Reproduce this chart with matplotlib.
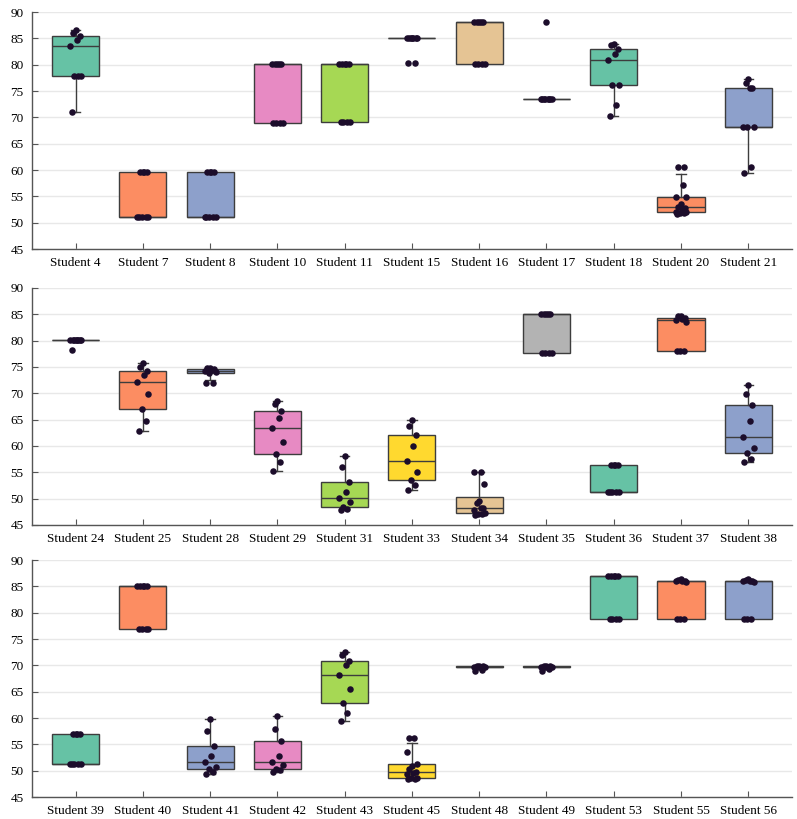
import matplotlib.pyplot as plt
import numpy as np

plt.rcParams['font.family'] = ['Liberation Serif', 'DejaVu Serif']

# Scores per student (three rows of eleven students)
students_1 = ['Student 4', 'Student 7', 'Student 8', 'Student 10', 'Student 11', 'Student 15',
              'Student 16', 'Student 17', 'Student 18', 'Student 20', 'Student 21']
scores_1 = [
    [71.0, 77.8, 77.8, 77.8, 83.6, 84.7, 85.4, 86.0, 86.5],
    [51.0, 51.0, 51.0, 51.0, 51.0, 59.6, 59.6, 59.6, 59.6],
    [51.0, 51.0, 51.0, 51.0, 51.0, 59.6, 59.6, 59.6, 59.6],
    [68.9, 68.9, 68.9, 68.9, 80.1, 80.1, 80.1, 80.1, 80.1],
    [69.2, 69.2, 69.2, 69.2, 80.1, 80.1, 80.1, 80.1, 80.1],
    [80.3, 80.3, 85.1, 85.1, 85.1, 85.1, 85.1, 85.1, 85.1],
    [80.1, 80.1, 80.1, 80.1, 88.2, 88.2, 88.2, 88.2, 88.2],
    [73.4, 73.4, 73.4, 73.4, 73.4, 73.4, 73.4, 73.4, 88.2],
    [70.2, 72.3, 76.2, 76.2, 80.8, 82.0, 82.9, 83.8, 84.0],
    [51.7, 51.8, 51.8, 52.0, 52.1, 52.6, 52.8, 53.0, 53.6, 54.9, 54.9, 57.2, 60.6, 60.6],
    [59.5, 60.6, 68.2, 68.2, 68.2, 75.5, 75.5, 76.6, 77.2],
]

students_2 = ['Student 24', 'Student 25', 'Student 28', 'Student 29', 'Student 31', 'Student 33',
              'Student 34', 'Student 35', 'Student 36', 'Student 37', 'Student 38']
scores_2 = [
    [78.2, 80.1, 80.1, 80.1, 80.1, 80.1, 80.1, 80.1, 80.1],
    [62.9, 64.8, 67.1, 69.9, 72.1, 73.4, 74.3, 75.0, 75.8],
    [71.9, 71.9, 73.8, 74.0, 74.3, 74.5, 74.6, 74.8, 74.8],
    [55.3, 56.9, 58.4, 60.7, 63.5, 65.3, 66.7, 68.0, 68.6],
    [47.8, 48.0, 48.4, 49.3, 50.1, 51.2, 53.2, 56.0, 58.1],
    [51.7, 52.6, 53.6, 55.0, 57.2, 59.9, 62.0, 63.8, 65.0],
    [46.9, 47.0, 47.1, 47.3, 47.9, 48.2, 48.3, 49.1, 49.6, 52.7, 55.0, 55.0],
    [77.6, 77.6, 77.6, 77.6, 85.1, 85.1, 85.1, 85.1, 85.1],
    [51.2, 51.2, 51.2, 51.2, 51.2, 56.3, 56.3, 56.3, 56.3],
    [78.0, 78.0, 78.0, 83.5, 84.0, 84.1, 84.3, 84.6, 84.6],
    [56.9, 57.6, 58.6, 59.6, 61.7, 64.8, 67.8, 69.8, 71.5],
]

students_3 = ['Student 39', 'Student 40', 'Student 41', 'Student 42', 'Student 43', 'Student 45',
              'Student 48', 'Student 49', 'Student 53', 'Student 55', 'Student 56']
scores_3 = [
    [51.2, 51.2, 51.2, 51.2, 51.2, 56.9, 56.9, 56.9, 56.9],
    [76.9, 76.9, 76.9, 76.9, 85.1, 85.1, 85.1, 85.1, 85.1],
    [49.4, 49.8, 50.4, 50.7, 51.6, 52.8, 54.7, 57.5, 59.8],
    [49.7, 50.1, 50.4, 51.0, 51.6, 52.8, 55.7, 57.9, 60.3],
    [59.4, 61.0, 62.9, 65.6, 68.1, 70.0, 70.9, 71.9, 72.6],
    [48.4, 48.5, 48.6, 48.7, 49.3, 49.6, 49.8, 50.4, 50.9, 51.3, 53.6, 56.3, 56.3],
    [68.9, 69.2, 69.6, 69.7, 69.7, 69.7, 69.8, 69.8, 69.8],
    [68.9, 69.3, 69.6, 69.7, 69.7, 69.7, 69.8, 69.8, 69.8],
    [78.8, 78.8, 78.8, 78.8, 87.0, 87.0, 87.0, 87.0, 87.0],
    [78.8, 78.8, 78.8, 85.8, 86.0, 86.0, 86.1, 86.3, 86.4],
    [78.8, 78.8, 78.8, 85.9, 86.0, 86.0, 86.1, 86.2, 86.4],
]

palette = ['#66c2a5', '#fc8d62', '#8da0cb', '#e78ac3', '#a6d854', '#ffd92f', '#e5c494', '#b3b3b3']
jitter = [-0.06, 0.04, -0.02, 0.08, -0.08, 0.02, 0.06, -0.04, 0.0, 0.07, -0.07, 0.03, -0.05, 0.05]
edge = '#3d3d3d'


def box_stats(vals):
    vals = np.array(vals)
    q1, med, q3 = np.percentile(vals, [25, 50, 75])
    iqr = q3 - q1
    lo_fence = q1 - 1.5 * iqr
    hi_fence = q3 + 1.5 * iqr
    # whiskers stop at the fence when points lie beyond it
    return dict(med=med, q1=q1, q3=q3,
                whislo=max(vals.min(), lo_fence), whishi=min(vals.max(), hi_fence),
                fliers=[])


fig, axes = plt.subplots(3, 1, figsize=(7.97, 8.19), dpi=100)
rows = [(students_1, scores_1), (students_2, scores_2), (students_3, scores_3)]
tops = [0.9853, 0.6484, 0.3162]

for ax, (names, scores), top in zip(axes, rows, tops):
    ax.set_position([0.040, top - 0.2894, 0.9537, 0.2894])
    pos = np.arange(len(names))
    stats = [box_stats(s) for s in scores]
    bp = ax.bxp(stats, positions=pos, widths=0.7, patch_artist=True, showfliers=False,
                boxprops=dict(edgecolor=edge, linewidth=1.0),
                medianprops=dict(color=edge, linewidth=1.0),
                whiskerprops=dict(color=edge, linewidth=1.0),
                capprops=dict(color=edge, linewidth=1.0), capwidths=0.14)
    for i, patch in enumerate(bp['boxes']):
        patch.set_facecolor(palette[i % len(palette)])
    for i, s in enumerate(scores):
        xs = [i + jitter[k % len(jitter)] for k in range(len(s))]
        ax.scatter(xs, s, s=22, color='#1c0d2b', zorder=4, linewidths=0)

    ax.set_ylim(45, 90)
    ax.set_yticks(range(45, 91, 5))
    ax.set_xlim(-0.65, 10.65)
    ax.set_xticks(pos)
    ax.set_xticklabels(names)
    ax.yaxis.grid(True, color='#e8e8e8', linewidth=1.0)
    ax.set_axisbelow(True)
    for side in ['top', 'right']:
        ax.spines[side].set_visible(False)
    for side in ['left', 'bottom']:
        ax.spines[side].set_color('#555555')
        ax.spines[side].set_linewidth(1.0)
    ax.tick_params(direction='in', length=4, color='#555555', labelsize=9.5, pad=6)

fig.savefig('out.png', dpi=100)
